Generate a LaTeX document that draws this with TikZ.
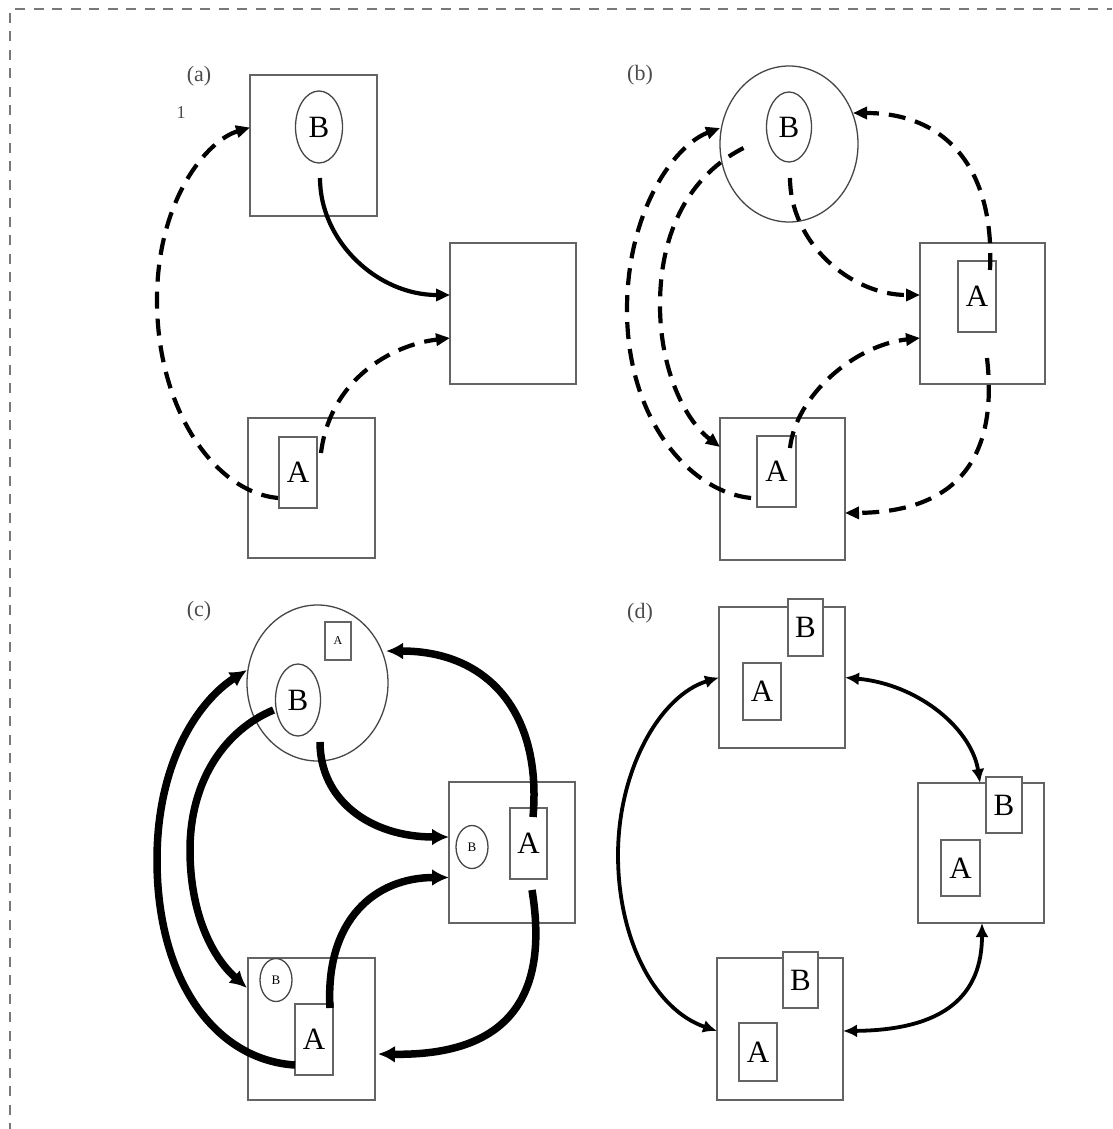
\documentclass[tikz,border=0pt]{standalone}
\usepackage{fontspec}
\setmainfont{Liberation Serif}
\usetikzlibrary{arrows.meta,calc,shapes.geometric}
\definecolor{boxgray}{RGB}{100,100,100}
\definecolor{elgray}{RGB}{70,70,70}
\definecolor{bordergray}{RGB}{120,120,120}
\definecolor{labelgray}{RGB}{75,75,75}
\begin{document}
\begin{tikzpicture}[x=1pt,y=-1pt,
  sz/.style 2 args={minimum width=#1pt,minimum height=#2pt},
  bx/.style={draw=boxgray,line width=1.8pt,inner sep=0pt,outer sep=0pt},
  ib/.style={draw=boxgray,fill=white,line width=1.6pt,inner sep=0pt,outer sep=0pt,font=\fontsize{31pt}{31pt}\selectfont},
  el/.style={ellipse,draw=elgray,line width=1.3pt,inner sep=0pt,outer sep=0pt,font=\fontsize{31pt}{31pt}\selectfont},
  circ/.style={ellipse,draw=elgray,line width=1.3pt,inner sep=0pt,outer sep=0pt},
  smallfont/.style={font=\fontsize{13pt}{13pt}\selectfont},
  lab/.style={text=labelgray,inner sep=0pt,font=\fontsize{22pt}{22pt}\selectfont},
  border/.style={draw=bordergray,line width=2pt,dash pattern=on 10pt off 8.5pt},
  dsh/.style={line width=4.2pt,dash pattern=on 17pt off 10pt,-{Triangle[length=14pt,width=12pt]}},
  sol/.style={line width=4.2pt,-{Triangle[length=14pt,width=12pt]}},
  thk/.style={line width=7.5pt,-{Latex[length=17pt,width=17pt]}},
  dbl/.style={line width=3.8pt,{Latex[length=14pt,width=13pt]}-{Latex[length=14pt,width=13pt]}}
]
\useasboundingbox (0,0) rectangle (1112,1129);
\draw[border] (9.5,13) -- (9.5,1129);
\draw[border] (15,9) -- (1112,9);

% ---------------- panel (a)
\node[lab] (la) at (199,76) {(a)};
\node[lab,font=\fontsize{18pt}{18pt}\selectfont] (one) at (181,113) {1};
\node[bx,sz={127}{141}] (aTop) at (313.5,145.5) {};
\node[el,sz={47}{72}] (aB) at (319,127) {B};
\node[bx,sz={126}{141}] (aRight) at (513,313.5) {};
\node[bx,sz={127}{140}] (aBot) at (311.5,488) {};
\node[ib,sz={38}{71}] (aA) at (298,472.5) {A};

\draw[sol] ($(aB.south)+(1,15)$) .. controls +(0,64) and +(-72,0) .. ($(aRight.west)+(0,-18.5)$);
\draw[dsh] ($(aA.north east)+(4,16)$) .. controls +(9,-73) and +(-59,7) .. ($(aRight.west)+(0,24.5)$);
\draw[dsh] ($(aA.south west)+(-1,-10)$) .. controls +(-63,-6) and +(0,110) .. (157,300)
   .. controls +(0,-100) and +(-43,13) .. ($(aTop.west)+(0,-18)$);

% ---------------- panel (b)
\node[lab] (lb) at (640,75) {(b)};
\node[circ,sz={138}{156}] (bCirc) at (789,144) {};
\node[el,sz={45}{70}] (bB) at (789,127) {B};
\node[bx,sz={125}{141}] (bRight) at (982.5,313.5) {};
\node[ib,sz={38}{71}] (bRA) at (977,296.5) {A};
\node[bx,sz={125}{142}] (bBot) at (782.5,489) {};
\node[ib,sz={39}{71}] (bBA) at (776.5,471.5) {A};

\draw[dsh] ($(bB.south)+(1,16)$) .. controls +(0,64) and +(-70,0) .. ($(bRight.west)+(0,-18.5)$);
\draw[dsh] ($(bBA.north east)+(-6,12)$) .. controls +(6,-53) and +(-65,7) .. ($(bRight.west)+(0,24.5)$);
\draw[dsh] ($(bBA.south west)+(-6,-9)$) .. controls +(-61,-6) and +(0,110) .. (627,310)
   .. controls +(0,-100) and +(-45,17) .. ($(bCirc.west)+(0,-16)$);
\draw[dsh] ($(bB.west)+(-23,21)$) .. controls +(-53,27) and +(0,-75) .. (660,305)
   .. controls +(0,65) and +(-35,-27) .. ($(bBot.west)+(0,-42)$);
\draw[dsh] ($(bRA.north east)+(-6,9)$) .. controls +(5,-105) and +(90,0) .. ($(bCirc.east)+(-5,-31)$);
\draw[dsh] ($(bRA.south east)+(-9,26)$) .. controls +(11,97) and +(115,-1) .. ($(bBot.east)+(0,24)$);

% ---------------- panel (c)
\node[lab] (lc) at (199,611) {(c)};
\node[circ,sz={141}{156}] (cCirc) at (317.5,683) {};
\node[ib,sz={26}{38},font=\fontsize{12pt}{12pt}\selectfont] (cSA) at (338,641) {A};
\node[el,sz={45}{72}] (cB) at (298,700) {B};
\node[bx,sz={126}{141}] (cRight) at (512,852.5) {};
\node[el,sz={32}{43},smallfont] (cRB) at (472,847) {B};
\node[ib,sz={37}{71}] (cRA) at (528.5,843.5) {A};
\node[bx,sz={127}{142}] (cBot) at (311.5,1029) {};
\node[el,sz={32}{43},smallfont] (cBB) at (276,980) {B};
\node[ib,sz={38}{71}] (cBA) at (314,1039.5) {A};

\draw[thk] ($(cCirc.south)+(2.5,-19)$) .. controls +(0,58) and +(-79,0) .. ($(cRight.west)+(0,-15.5)$);
\draw[thk] ($(cBA.north east)+(-3,4)$) .. controls +(-5,-88) and +(-74,0) .. ($(cRight.west)+(0,25)$);
\draw[thk] ($(cB.west)+(-2,10)$) .. controls +(-48,20) and +(0,-70) .. (190,850)
   .. controls +(0,60) and +(-37,-33) .. ($(cBot.west)+(-1,-41)$);
\draw[thk] ($(cBA.west)+(0,25.5)$) .. controls +(-80,-5) and +(0,120) .. (157,860)
   .. controls +(0,-100) and +(-47,30) .. ($(cCirc.west)+(0,-13)$);
\draw[thk] ($(cRA.north east)+(-14,9)$) .. controls +(9,-102) and +(104,0) .. ($(cCirc.east)+(-2,-32)$);
\draw[thk] ($(cRA.south east)+(-15,11)$) .. controls +(18,110) and +(127,2) .. ($(cBot.east)+(3,25)$);

% ---------------- panel (d)
\node[lab] (ld) at (640,613) {(d)};
\node[bx,sz={126}{141}] (dTop) at (782,677.5) {};
\node[ib,sz={35}{57}] (dTB) at (805.5,627.5) {B};
\node[ib,sz={38}{57}] (dTA) at (762,691.5) {A};
\node[bx,sz={126}{140}] (dRight) at (981,853) {};
\node[ib,sz={36}{56}] (dRB) at (1004,805) {B};
\node[ib,sz={39}{56}] (dRA) at (960.5,868) {A};
\node[bx,sz={126}{142}] (dBot) at (780,1029) {};
\node[ib,sz={35}{56}] (dBB) at (800.5,980) {B};
\node[ib,sz={38}{58}] (dBA) at (758,1052) {A};

\draw[dbl] (dTop.west) .. controls +(-59,18) and +(0,-85) .. (618,855)
   .. controls +(0,85) and +(-62,-21) .. ($(dBot.west)+(0,2)$);
\draw[dbl] (dTop.east) .. controls +(75,7) and +(-8,-53) .. ($(dRight.north)+(-1,0)$);
\draw[dbl] ($(dRight.south)+(1,0)$) .. controls +(0,72) and +(102,-1) .. ($(dBot.east)+(0,2)$);
\end{tikzpicture}
\end{document}
